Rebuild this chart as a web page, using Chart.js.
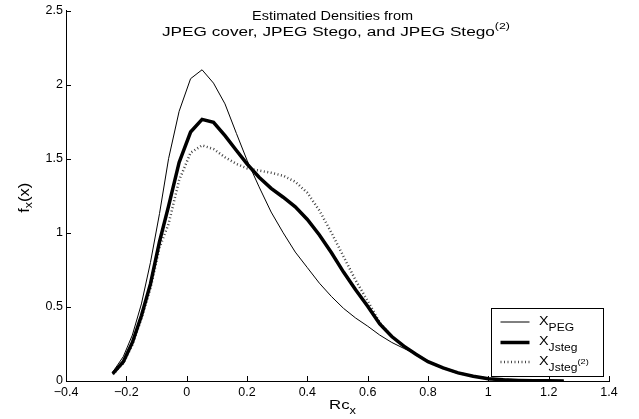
<!DOCTYPE html>
<html><head><meta charset="utf-8">
<script src="https://cdn.jsdelivr.net/npm/chart.js@4.4.1/dist/chart.umd.min.js"></script>
<style>html,body{margin:0;padding:0;background:#fff;}canvas{display:block;}</style>
</head><body>
<canvas id="c" width="639" height="419"></canvas>
<script>
const xValues = [-0.245, -0.21, -0.18, -0.15, -0.12, -0.09, -0.06, -0.025, 0.013, 0.051, 0.089, 0.127, 0.165, 0.2, 0.24, 0.28, 0.32, 0.36, 0.4, 0.44, 0.48, 0.52, 0.56, 0.6, 0.64, 0.68, 0.72, 0.76, 0.8, 0.85, 0.9, 0.95, 1.0, 1.05, 1.1, 1.15, 1.2, 1.25];
const pegValues = [0.06, 0.165, 0.31, 0.52, 0.80, 1.13, 1.50, 1.82, 2.04, 2.10, 2.01, 1.87, 1.67, 1.49, 1.31, 1.14, 1.00, 0.87, 0.765, 0.66, 0.57, 0.49, 0.425, 0.37, 0.31, 0.26, 0.22, 0.18, 0.13, 0.088, 0.055, 0.032, 0.016, 0.008, 0.004, 0.002, 0.001, 0.0];
const jstegValues = [0.05, 0.13, 0.26, 0.44, 0.655, 0.94, 1.18, 1.475, 1.68, 1.765, 1.745, 1.655, 1.555, 1.465, 1.375, 1.30, 1.24, 1.175, 1.09, 0.985, 0.865, 0.735, 0.615, 0.505, 0.385, 0.30, 0.235, 0.18, 0.13, 0.088, 0.055, 0.032, 0.015, 0.008, 0.004, 0.002, 0.001, 0.0];
const jsteg2Values = [0.045, 0.12, 0.245, 0.42, 0.625, 0.90, 1.06, 1.355, 1.54, 1.59, 1.565, 1.51, 1.465, 1.435, 1.42, 1.405, 1.385, 1.345, 1.27, 1.15, 1.0, 0.84, 0.68, 0.54, 0.395, 0.30, 0.235, 0.18, 0.13, 0.088, 0.055, 0.032, 0.015, 0.008, 0.004, 0.002, 0.001, 0.0];
const xTickValues = [-0.4, -0.2, 0, 0.2, 0.4, 0.6, 0.8, 1, 1.2, 1.4];
const xTickLabels = ['\u22120.4', '\u22120.2', '0', '0.2', '0.4', '0.6', '0.8', '1', '1.2', '1.4'];
const yTickValues = [0, 0.5, 1, 1.5, 2, 2.5];
const yTickLabels = ['0', '0.5', '1', '1.5', '2', '2.5'];

const FONT = '"Liberation Sans", Arial, Helvetica, sans-serif';

function toPoints(ys) { return xValues.map((x, i) => ({x: x, y: ys[i]})); }

function drawRich(ctx, parts, x, y, opts) {
  opts = opts || {};
  let W = 0;
  const ws = parts.map(p => { ctx.font = p.size + 'px ' + FONT; const w = ctx.measureText(p.t).width; W += w; return w; });
  const sx = opts.width ? opts.width / W : (opts.stretch || 1);
  const start = opts.align === 'center' ? x - W * sx / 2 : x;
  ctx.save();
  ctx.translate(start, y);
  ctx.scale(sx, 1);
  ctx.fillStyle = '#000';
  ctx.textBaseline = 'alphabetic';
  ctx.textAlign = 'left';
  let cx = 0;
  parts.forEach((p, i) => { ctx.font = p.size + 'px ' + FONT; ctx.fillText(p.t, cx, p.dy || 0); cx += ws[i]; });
  ctx.restore();
}

const decorPlugin = {
  id: 'decor',
  afterDraw(chart) {
    const ctx = chart.ctx;
    const xs = chart.scales.x, ys = chart.scales.y;
    const area = chart.chartArea;
    ctx.save();
    ctx.strokeStyle = '#000';
    ctx.lineWidth = 1;
    ctx.beginPath();
    xTickValues.forEach(v => { const px = Math.round(xs.getPixelForValue(v)) + 0.5; ctx.moveTo(px, area.bottom); ctx.lineTo(px, area.bottom - 5); });
    yTickValues.forEach(v => { const py = Math.round(ys.getPixelForValue(v)) + 0.5; ctx.moveTo(area.left, py); ctx.lineTo(area.left + 5, py); });
    ctx.stroke();
    ctx.restore();

    // title
    drawRich(ctx, [{t: 'Estimated Densities from', size: 12.5}], 252, 19.5, {width: 161});
    drawRich(ctx, [{t: 'JPEG cover, JPEG Stego, and JPEG Stego', size: 12.5}, {t: '(2)', size: 9, dy: -7}], 162, 36, {width: 348});

    // y label
    ctx.save();
    ctx.translate(28.5, (area.top + area.bottom) / 2 + 2);
    ctx.rotate(-Math.PI / 2);
    drawRich(ctx, [{t: 'f', size: 14}, {t: 'x', size: 10.5, dy: 3.5}, {t: '(x)', size: 14}], 0, 0, {align: 'center', width: 30});
    ctx.restore();

    // x label
    drawRich(ctx, [{t: 'Rc', size: 13}, {t: 'x', size: 10, dy: 5}], 329, 409, {width: 27});

    // legend
    const bx = 491.5, by = 308.5, bw = 112, bh = 68;
    ctx.save();
    ctx.fillStyle = '#fff';
    ctx.fillRect(bx, by, bw, bh);
    ctx.strokeStyle = '#000';
    ctx.lineWidth = 1;
    ctx.strokeRect(bx, by, bw, bh);
    const rows = [322, 342.5, 362];
    chart.data.datasets.forEach((ds, i) => {
      ctx.save();
      ctx.strokeStyle = ds.borderColor;
      ctx.lineWidth = ds.borderWidth;
      ctx.setLineDash(ds.borderDash || []);
      ctx.lineCap = 'butt';
      ctx.beginPath();
      ctx.moveTo(500.5, rows[i]);
      ctx.lineTo(529.5, rows[i]);
      ctx.stroke();
      ctx.restore();
    });
    ctx.restore();
    drawRich(ctx, [{t: 'X', size: 12.5}, {t: 'PEG', size: 10.5, dy: 6}], 539, 325, {stretch: 1.15});
    drawRich(ctx, [{t: 'X', size: 12.5}, {t: 'Jsteg', size: 10.5, dy: 6}], 539, 345, {stretch: 1.15});
    drawRich(ctx, [{t: 'X', size: 12.5}, {t: 'Jsteg', size: 10.5, dy: 6}, {t: '(2)', size: 8, dy: -1}], 539, 365, {stretch: 1.15});
  }
};

new Chart(document.getElementById('c'), {
  type: 'line',
  data: {
    datasets: [
      {label: 'X_PEG', data: toPoints(pegValues), borderColor: '#000', borderWidth: 1, pointRadius: 0, tension: 0, fill: false},
      {label: 'X_Jsteg', data: toPoints(jstegValues), borderColor: '#000', borderWidth: 3.5, pointRadius: 0, tension: 0, fill: false},
      {label: 'X_Jsteg(2)', data: toPoints(jsteg2Values), borderColor: '#444', borderWidth: 2.5, borderDash: [1, 2.5], borderCapStyle: 'butt', pointRadius: 0, tension: 0, fill: false}
    ]
  },
  options: {
    responsive: false,
    animation: false,
    devicePixelRatio: 1,
    layout: {padding: {left: 0, right: 30, top: 10, bottom: 0}},
    plugins: {legend: {display: false}, title: {display: false}, tooltip: {enabled: false}},
    scales: {
      x: {
        type: 'linear', min: -0.4, max: 1.4,
        afterBuildTicks: s => { s.ticks = xTickValues.map(v => ({value: v})); },
        afterFit: s => { s.height = 38; },
        ticks: {callback: (v, i) => xTickLabels[i], font: {family: FONT, size: 12.5}, color: '#000', padding: 4, maxRotation: 0, autoSkip: false},
        grid: {display: false, drawTicks: false},
        border: {display: true, color: '#000', width: 1}
      },
      y: {
        type: 'linear', min: 0, max: 2.5,
        afterBuildTicks: s => { s.ticks = yTickValues.map(v => ({value: v})); },
        afterFit: s => { s.width = 66; },
        ticks: {callback: (v, i) => yTickLabels[i], font: {family: FONT, size: 12.5}, color: '#000', padding: 3, autoSkip: false},
        grid: {display: false, drawTicks: false},
        border: {display: true, color: '#000', width: 1}
      }
    }
  },
  plugins: [decorPlugin]
});
</script>
</body></html>
